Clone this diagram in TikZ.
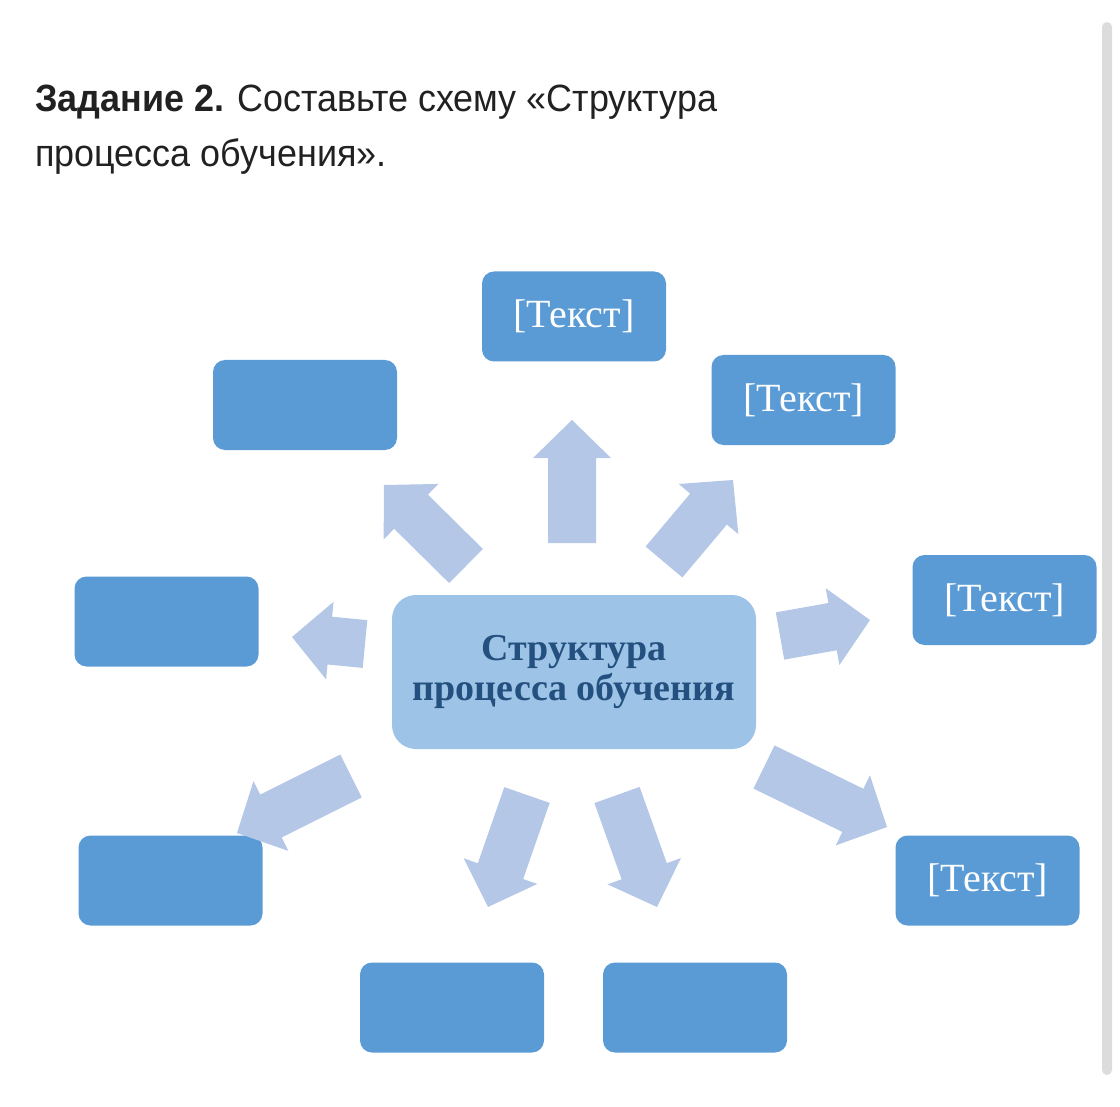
\documentclass[tikz,border=0pt]{standalone}
\usepackage{fontspec}
\setmainfont{Liberation Serif}
\newfontfamily\uifont[FakeStretch=0.945]{Liberation Sans}
\usetikzlibrary{calc}

\definecolor{boxblue}{HTML}{5B9BD5}
\definecolor{hubblue}{HTML}{9DC3E6}
\definecolor{hubtext}{HTML}{24507F}
\definecolor{arrowblue}{HTML}{B4C7E7}
\definecolor{barcolor}{HTML}{DCDCDC}
\definecolor{inktext}{HTML}{212121}

% block arrow from a tail point to a tip point
\newcommand\blockarrow[2]{%
  \coordinate (hb) at ($(#2)!19pt!(#1)$);
  \fill[arrowblue]
    ($(#1)!12pt!90:(#2)$) -- ($(hb)!12pt!90:(#2)$) -- ($(hb)!19.5pt!90:(#2)$)
    -- (#2)
    -- ($(hb)!19.5pt!-90:(#2)$) -- ($(hb)!12pt!-90:(#2)$) -- ($(#1)!12pt!-90:(#2)$)
    -- cycle;}

\begin{document}
\begin{tikzpicture}[x=0.5pt,y=-0.5pt,
  leaf/.style={fill=boxblue, rounded corners=6pt, minimum width=92pt,
    minimum height=45pt, inner sep=0pt, text=white,
    font=\fontsize{20pt}{24pt}\selectfont},
  hub/.style={fill=hubblue, rounded corners=12pt, minimum width=182pt,
    minimum height=77pt, inner sep=0pt, text=hubtext, align=center,
    font=\fontsize{19pt}{20pt}\selectfont\bfseries},
  heading/.style={anchor=base west, inner sep=0pt, text=inktext,
    font=\uifont\fontsize{19pt}{24pt}\selectfont}]
\useasboundingbox (0,0) rectangle (1120,1107);

% page scrollbar
\fill[barcolor, rounded corners=2.5pt] (1102,22) rectangle (1112,1075);

% task heading
\node[heading] (h1) at (35,112) {\textbf{Задание 2.} Составьте схему «Структура};
\node[heading] (h2) at (35,167) {процесса обучения».};

% central block
\node[hub] (hub) at (574,672) {Структура\\процесса обучения};

% surrounding blocks
\node[leaf] (top)   at (574,316.5)  {[Текст]};
\node[leaf] (tr)    at (803.5,400)  {[Текст]};
\node[leaf] (right) at (1004.5,600) {[Текст]};
\node[leaf] (br)    at (987.5,880.5) {[Текст]};
\node[leaf] (bcr)   at (695,1007.5) {};
\node[leaf] (bcl)   at (452,1007.5) {};
\node[leaf] (bl)    at (170.5,880.5) {};
\node[leaf] (left)  at (166.5,621.5) {};
\node[leaf] (tl)    at (305,405)    {};

% arrow tails and tips
\coordinate (t1) at (572,543); \coordinate (p1) at (572,420);
\coordinate (t2) at (466,566); \coordinate (p2) at (384,485);
\coordinate (t3) at (664,562); \coordinate (p3) at (733,480);
\coordinate (t4) at (780,636); \coordinate (p4) at (870,620);
\coordinate (t5) at (764,767); \coordinate (p5) at (887,827);
\coordinate (t6) at (365,644); \coordinate (p6) at (292,637);
\coordinate (t7) at (351,776); \coordinate (p7) at (237,833);
\coordinate (t8) at (527,795); \coordinate (p8) at (488,907);
\coordinate (t9) at (617,795); \coordinate (p9) at (657,907);

\foreach \i in {1,...,9} {\blockarrow{t\i}{p\i}}
\end{tikzpicture}
\end{document}
